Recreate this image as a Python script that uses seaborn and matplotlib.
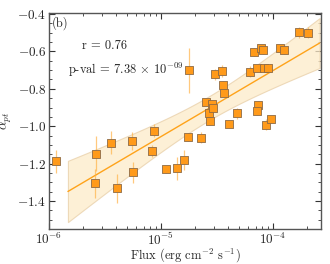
import numpy as np
import pandas as pd
import seaborn as sns
import matplotlib
matplotlib.use("Agg")
import matplotlib.pyplot as plt
from matplotlib.ticker import LogLocator, MultipleLocator, NullFormatter

# flux (erg cm^-2 s^-1), alpha_pt and its error
flux = [1.17e-6, 2.63e-6, 2.59e-6, 3.58e-6, 4.05e-6, 5.51e-6, 5.66e-6,
        8.66e-6, 8.36e-6, 1.12e-5, 1.38e-5, 1.61e-5, 1.74e-5, 1.79e-5,
        2.28e-5, 2.52e-5, 2.67e-5, 2.76e-5, 2.87e-5, 2.89e-5, 3.03e-5,
        3.52e-5, 3.60e-5, 3.65e-5, 4.07e-5, 4.74e-5, 6.27e-5, 6.73e-5,
        7.20e-5, 7.30e-5, 7.24e-5, 7.87e-5, 8.09e-5, 8.36e-5, 8.97e-5,
        8.60e-5, 9.66e-5, 1.16e-4, 1.26e-4, 1.71e-4, 2.04e-4]
alpha = [-1.188, -1.147, -1.306, -1.088, -1.333, -1.079, -1.247,
         -1.024, -1.133, -1.231, -1.226, -1.183, -1.058, -0.700,
         -1.061, -0.868, -0.932, -0.972, -0.879, -0.902, -0.722,
         -0.704, -0.777, -0.820, -0.990, -0.931, -0.709, -0.602,
         -0.691, -0.884, -0.920, -0.584, -0.593, -0.688, -0.688,
         -0.993, -0.963, -0.584, -0.591, -0.498, -0.500]
alpha_err = [0.063, 0.095, 0.079, 0.063, 0.078, 0.046, 0.055,
             0.033, 0.030, 0.020, 0.060, 0.054, 0.020, 0.120,
             0.030, 0.020, 0.020, 0.020, 0.020, 0.020, 0.030,
             0.030, 0.020, 0.020, 0.020, 0.030, 0.030, 0.020,
             0.020, 0.020, 0.020, 0.020, 0.020, 0.020, 0.020,
             0.030, 0.020, 0.020, 0.020, 0.030, 0.030]
fit_range = [1.48e-6, 2.6e-4]
r_text = "r = 0.76"
p_text = r"p-val = 7.38 $\times$ 10$^{-09}$"

df = pd.DataFrame({"flux": flux, "alpha": alpha, "err": alpha_err})

sns.set_theme(style="ticks")
plt.rcParams["font.family"] = ["cmr10", "DejaVu Serif"]
plt.rcParams["mathtext.fontset"] = "cm"
plt.rcParams["axes.unicode_minus"] = False
plt.rcParams["axes.formatter.use_mathtext"] = True

fig, ax = plt.subplots(figsize=(3.3, 2.64), dpi=100)
fig.subplots_adjust(left=0.148, right=0.973, top=0.95, bottom=0.133)

# fit alpha against log10(flux)
lx = np.log10(df["flux"].values)
y = df["alpha"].values
slope, icpt = np.polyfit(lx, y, 1)
n = len(lx)
resid = y - (slope * lx + icpt)
s = np.sqrt(np.sum(resid ** 2) / (n - 2))
sxx = np.sum((lx - lx.mean()) ** 2)
xx = np.linspace(np.log10(fit_range[0]), np.log10(fit_range[1]), 100)
yy = slope * xx + icpt
half = 3.0 * s * np.sqrt(1.0 / n + (xx - lx.mean()) ** 2 / sxx)

ax.fill_between(10 ** xx, yy - half, yy + half, facecolor="#fdebc9",
                edgecolor="#e8cfa8", alpha=0.75, linewidth=0.8, zorder=1)
sns.lineplot(x=10 ** xx, y=yy, color="#ffa31a", linewidth=1.0, ax=ax, zorder=2)

ax.errorbar(df["flux"], df["alpha"], yerr=df["err"], fmt="none",
            ecolor="#ffb347", elinewidth=0.9, alpha=0.7, zorder=3)
sns.scatterplot(data=df, x="flux", y="alpha", marker="s", s=26,
                color="#ff9a1a", edgecolor="#8d6a45", linewidth=0.6,
                ax=ax, zorder=4)

ax.set_xscale("log")
ax.set_xlim(1e-6, 2.68e-4)
ax.set_ylim(-1.55, -0.395)
ax.yaxis.set_major_locator(MultipleLocator(0.2))
ax.yaxis.set_minor_locator(MultipleLocator(0.05))
ax.xaxis.set_major_locator(LogLocator(base=10, numticks=10))
ax.xaxis.set_minor_locator(LogLocator(base=10, subs=np.arange(2, 10), numticks=10))
ax.xaxis.set_minor_formatter(NullFormatter())
ax.tick_params(which="both", direction="in", top=True, right=True,
               labelsize=9.5, color="#333333", pad=2)
ax.tick_params(which="major", length=4, width=0.8)
ax.tick_params(which="minor", length=2, width=0.6)
for sp in ax.spines.values():
    sp.set_color("#555555")
    sp.set_linewidth(1.0)

ax.set_xlabel(r"Flux (erg cm$^{-2}$ s$^{-1}$)", fontsize=9, labelpad=-1)
ax.set_ylabel(r"$\alpha_{pt}$", fontsize=9.5, labelpad=2)

ax.text(0.01, 0.985, "(b)", transform=ax.transAxes, fontsize=9,
        ha="left", va="top")
ax.text(0.12, 0.85, r_text, transform=ax.transAxes, fontsize=9, ha="left", va="center")
ax.text(0.07, 0.735, p_text, transform=ax.transAxes, fontsize=9, ha="left", va="center")

fig.savefig("out.png", dpi=100)
